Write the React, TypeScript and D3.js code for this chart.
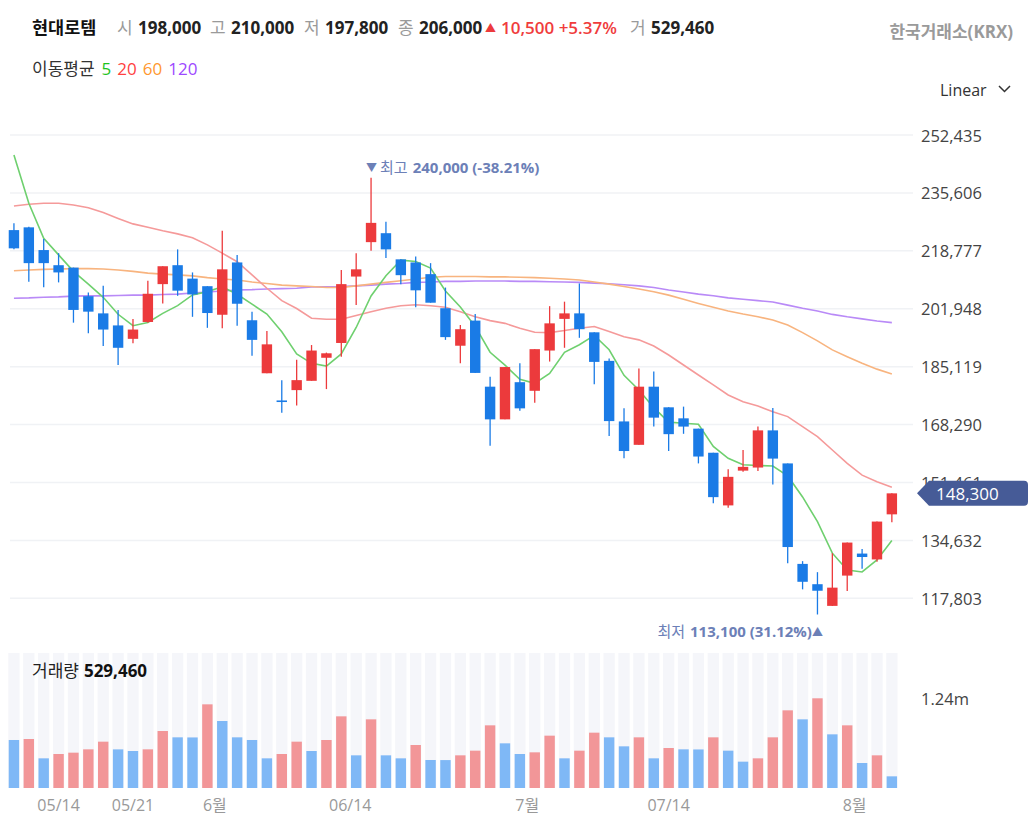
import { useEffect, useRef } from "react"
import * as d3 from "d3"

// OHLC (60 trading days)
const opens = [224800, 225600, 219000, 214600, 213900, 205600, 200600, 197100, 193200, 198100,
  209100, 214600, 210700, 208500, 200200, 215400, 198600, 183200, 175300, 178300,
  181000, 187700, 192000, 211300, 221300, 223900, 216300, 215400, 212000, 202100,
  191200, 198500, 179300, 169800, 180600, 178100, 189800, 199000, 200600, 195100,
  186800, 169200, 162400, 179300, 173300, 170100, 167100, 160100, 144800, 154900,
  155800, 166600, 157000, 127800, 121900, 115600, 124400, 130800, 129100, 142200]
const highs = [226800, 225800, 222200, 218100, 213900, 206700, 208600, 201600, 199000, 210100,
  214300, 219200, 212500, 208500, 224600, 217600, 201100, 195500, 181200, 187100,
  191400, 189200, 213200, 218100, 240000, 227200, 216300, 217100, 215200, 208100,
  197200, 200400, 182200, 185000, 186100, 190200, 202700, 204000, 209300, 195100,
  187500, 173000, 184600, 183700, 173300, 173500, 167100, 160100, 155300, 160900,
  167700, 173100, 157000, 128600, 125400, 130900, 134000, 132100, 140100, 148300]
const lows = [219200, 209800, 208200, 209600, 197900, 194800, 191100, 185600, 191900, 197900,
  203500, 205700, 199600, 196400, 196300, 197000, 188300, 183200, 171700, 173800,
  181000, 178600, 188000, 203000, 218800, 216700, 209100, 202400, 203700, 192900,
  186100, 183300, 162100, 169800, 172300, 174600, 186600, 190600, 193500, 180000,
  165000, 158500, 162400, 167700, 160600, 165600, 157000, 145400, 144100, 154600,
  154800, 150900, 128000, 120400, 113100, 115600, 119900, 126400, 128400, 139900]
const closes = [219500, 215200, 215200, 212500, 201600, 201100, 195900, 190600, 195900, 206300,
  214300, 207200, 206100, 200700, 213400, 203400, 192900, 191600, 174900, 181200,
  189800, 189000, 209100, 213400, 226900, 219200, 211700, 207300, 203700, 193700,
  196000, 183300, 169800, 185000, 173000, 190200, 197700, 200600, 196000, 186500,
  169300, 160600, 179300, 170300, 165500, 167700, 159000, 147200, 153100, 156000,
  166600, 158400, 132700, 122600, 120000, 120900, 134000, 129800, 140100, 148300]
const volumes = [663600, 677400, 410100, 470000, 488400, 534500, 640500, 534000, 511500, 534500,
  788000, 700400, 699000, 1156600, 926200, 700400, 663600, 410100, 470000, 640500,
  511500, 663600, 990700, 451600, 949200, 451600, 410100, 594400, 387100, 386000,
  451600, 516100, 866300, 617500, 470000, 493100, 723500, 410100, 516100, 764900,
  700400, 576000, 700400, 410100, 553000, 534500, 533000, 700400, 516100, 364000,
  410100, 700400, 1073700, 949200, 1240000, 741900, 866300, 345600, 451600, 161300]

// moving averages (history before the window is not shown, so the first MA5 points are read)
const ma5Lead = [246600, 232600, 222400, 217600]
const ma20 = [231800, 232300, 232600, 232600, 232100, 231300, 229900, 228200, 226600, 225600,
  224600, 223700, 222600, 220500, 218100, 215600, 211800, 207900, 204300, 202000,
  199200, 198900, 198900, 200000, 201100, 202100, 202800, 203100, 202800, 202400,
  201100, 199600, 198500, 197700, 196300, 195100, 195000, 195600, 196300, 196800,
  195300, 193800, 192900, 191100, 188500, 185600, 182700, 179800, 176900, 174900,
  173700, 172000, 170600, 167700, 164800, 160900, 157000, 153600, 151700, 150100]
const ma60 = [213000, 213200, 213400, 213500, 213600, 213600, 213500, 213200, 212800, 212300,
  212000, 211800, 211500, 211000, 210600, 210300, 209700, 209300, 208800, 208600,
  208400, 208100, 208100, 208600, 209100, 209600, 210100, 210600, 211100, 211300,
  211300, 211300, 211200, 211200, 211100, 211000, 210800, 210600, 210300, 209700,
  209100, 208400, 207700, 206900, 205900, 204700, 203500, 202400, 201300, 200400,
  199600, 198700, 197200, 195000, 192600, 190000, 188000, 186100, 184400, 183000]
const ma120 = [205000, 205100, 205300, 205400, 205600, 205700, 205700, 205800, 205900, 205900,
  206100, 206200, 206500, 206800, 207100, 207400, 207500, 207700, 207800, 207900,
  208300, 208300, 208400, 208600, 208800, 209100, 209300, 209600, 209700, 209900,
  209900, 210000, 210000, 210000, 209900, 209900, 209800, 209700, 209600, 209400,
  209200, 208900, 208600, 208100, 207400, 206800, 206200, 205700, 205100, 204700,
  204300, 203900, 203000, 202100, 201300, 200300, 199600, 199000, 198400, 197900]

const priceTicks = [117803, 134632, 151461, 168290, 185119, 201948, 218777, 235606, 252435]
const dateLabels = ["05/14", "05/21", "6월", "06/14", "7월", "07/14", "8월"]
const dateIndex = [3, 8, 13.5, 22.6, 34.5, 44, 56.5]

const headerStats = [
  ["시", "198,000"],
  ["고", "210,000"],
  ["저", "197,800"],
  ["종", "206,000"],
]
const maNames = ["5", "20", "60", "120"]
const maColors = ["#1ec31e", "#ff4040", "#ff9830", "#9d48ff"]

const RED = "#ec3a3c"
const BLUE = "#1a7be6"
const FONT = "'Open Sans', 'Noto Sans CJK KR', sans-serif"

export default function App() {
  const svgRef = useRef<SVGSVGElement>(null)

  useEffect(() => {
    if (!svgRef.current) return
    const svg = d3.select(svgRef.current)
    svg.selectAll("*").remove()
    svg.attr("font-family", FONT)

    const n = closes.length
    const x = d3.scaleLinear().domain([-0.5, n - 0.5]).range([6.5, 899.3])
    const step = x(1) - x(0)
    const y = d3.scaleLinear().domain([117803, 252435]).range([598.3, 135])
    const yVol = d3.scaleLinear().domain([0, d3.max(volumes)!]).range([788, 698.3])
    const comma = d3.format(",")
    const pct = (v: number) => d3.format(".2f")(v).replace("−", "-")

    // header
    const head = svg.append("g").attr("font-size", 17).attr("dominant-baseline", "central")
    head.append("text").attr("x", 32).attr("y", 27).attr("font-size", 17.5).attr("font-weight", 700)
      .attr("fill", "#111").text("현대로템")
    const statX = [117, 210, 304, 398]
    headerStats.forEach(([k, v], i) => {
      head.append("text").attr("x", statX[i]).attr("y", 27).attr("fill", "#9a9a9a").text(k)
      head.append("text").attr("x", statX[i] + 21).attr("y", 27).attr("font-weight", 700).attr("fill", "#222").text(v)
    })
    head.append("text").attr("x", 485).attr("y", 27).attr("font-size", 11).attr("fill", RED).text("▲")
    head.append("text").attr("x", 501).attr("y", 27).attr("font-weight", 600).attr("fill", "#f03c3c").text("10,500 +5.37%")
    head.append("text").attr("x", 630).attr("y", 27).attr("fill", "#9a9a9a").text("거")
    head.append("text").attr("x", 651).attr("y", 27).attr("font-weight", 700).attr("fill", "#222").text("529,460")
    head.append("text").attr("x", 1013).attr("y", 31).attr("text-anchor", "end").attr("font-size", 17)
      .attr("font-weight", 700).attr("fill", "#9a9a9a").text("한국거래소(KRX)")

    const legend = svg.append("text").attr("x", 32).attr("y", 68).attr("font-size", 17)
      .attr("dominant-baseline", "central").attr("fill", "#333")
    legend.append("tspan").text("이동평균")
    maNames.forEach((m, i) => legend.append("tspan").attr("dx", i === 0 ? 7 : 6).attr("fill", maColors[i]).text(m))

    svg.append("text").attr("x", 940).attr("y", 90).attr("font-size", 16).attr("dominant-baseline", "central")
      .attr("fill", "#333").text("Linear")
    svg.append("polyline").attr("points", "999,86 1004.5,91.5 1010,86").attr("fill", "none")
      .attr("stroke", "#333").attr("stroke-width", 1.5)

    // grid + price axis
    svg.append("g").selectAll("line").data(priceTicks).join("line")
      .attr("x1", 10).attr("x2", 913).attr("y1", (d) => y(d)).attr("y2", (d) => y(d))
      .attr("stroke", "#f0f2f5").attr("stroke-width", 1.5)
    svg.append("g").selectAll("text").data(priceTicks).join("text")
      .attr("x", 921).attr("y", (d) => y(d)).attr("dominant-baseline", "central")
      .attr("font-size", 16.5).attr("fill", "#444").text((d) => comma(d))

    // moving averages
    const ma5 = closes.map((_, i) => (i < ma5Lead.length ? ma5Lead[i] : d3.mean(closes.slice(i - 4, i + 1))!))
    const line = d3.line<number>().x((_, i) => x(i)).y((d) => y(d))
    const maSeries = [ma120, ma60, ma20, ma5]
    const maLineColors = ["#b98af7", "#f8b47f", "#f59a9a", "#6fd06f"]
    maSeries.forEach((s, i) => {
      svg.append("path").attr("d", line(s)).attr("fill", "none")
        .attr("stroke", maLineColors[i]).attr("stroke-width", 1.6)
    })

    // candles
    const idx = d3.range(n)
    const candles = svg.append("g").selectAll("g").data(idx).join("g")
    candles.append("line")
      .attr("x1", (i) => x(i)).attr("x2", (i) => x(i))
      .attr("y1", (i) => y(highs[i])).attr("y2", (i) => y(lows[i]))
      .attr("stroke", (i) => (closes[i] >= opens[i] ? RED : BLUE)).attr("stroke-width", 1.3)
    const bw = step * 0.7
    candles.append("rect")
      .attr("x", (i) => x(i) - bw / 2)
      .attr("y", (i) => y(Math.max(opens[i], closes[i])))
      .attr("width", bw)
      .attr("height", (i) => Math.max(1.6, Math.abs(y(opens[i]) - y(closes[i]))))
      .attr("fill", (i) => (closes[i] >= opens[i] ? RED : BLUE))

    // high / low annotations
    const hiIdx = d3.maxIndex(highs)
    const loIdx = d3.minIndex(lows)
    const last = closes[n - 1]
    const hi = svg.append("text").attr("x", x(hiIdx) - 5).attr("y", 167).attr("font-size", 15)
      .attr("dominant-baseline", "central").attr("fill", "#6c80b7")
    hi.append("tspan").attr("font-size", 11).text("▼")
    hi.append("tspan").attr("dx", 3).text("최고")
    hi.append("tspan").attr("dx", 5).attr("font-weight", 700)
      .text(`${comma(highs[hiIdx])} (${pct(((last - highs[hiIdx]) / highs[hiIdx]) * 100)}%)`)
    const lo = svg.append("text").attr("x", x(loIdx) + 5.5).attr("y", 631).attr("font-size", 15)
      .attr("text-anchor", "end").attr("dominant-baseline", "central").attr("fill", "#6c80b7")
    lo.append("tspan").text("최저")
    lo.append("tspan").attr("dx", 5).attr("font-weight", 700)
      .text(`${comma(lows[loIdx])} (${pct(((last - lows[loIdx]) / lows[loIdx]) * 100)}%)`)
    lo.append("tspan").attr("font-size", 11).text("▲")

    // last price tag
    const ly = y(last)
    svg.append("path")
      .attr("d", `M917,${ly} L929,${ly - 12.5} H1024 Q1028,${ly - 12.5} 1028,${ly - 8.5} V${ly + 8.5} Q1028,${ly + 12.5} 1024,${ly + 12.5} H929 Z`)
      .attr("fill", "#465b97")
    svg.append("text").attr("x", 936).attr("y", ly).attr("dominant-baseline", "central")
      .attr("font-size", 17).attr("fill", "#fff").text(comma(last))

    // volume panel
    const cw = step * 0.76
    svg.append("g").selectAll("rect").data(idx).join("rect")
      .attr("x", (i) => x(i) - cw / 2).attr("y", 653).attr("width", cw).attr("height", 788 - 653)
      .attr("fill", "#f5f6fa")
    svg.append("g").selectAll("rect").data(idx).join("rect")
      .attr("x", (i) => x(i) - bw / 2).attr("y", (i) => yVol(volumes[i]))
      .attr("width", bw).attr("height", (i) => 788 - yVol(volumes[i]))
      .attr("fill", (i) => (i > 0 && volumes[i] > volumes[i - 1] ? "#f29698" : "#7fb8f6"))

    const vl = svg.append("text").attr("x", 32).attr("y", 670).attr("font-size", 17)
      .attr("dominant-baseline", "central").attr("fill", "#222")
    vl.append("tspan").text("거래량")
    vl.append("tspan").attr("dx", 5).attr("font-weight", 700).attr("fill", "#111").text("529,460")
    svg.append("text").attr("x", 921).attr("y", yVol(d3.max(volumes)!)).attr("font-size", 16.5)
      .attr("dominant-baseline", "central").attr("fill", "#444").text(d3.format(".3s")(d3.max(volumes)!).replace("M", "m"))

    // date axis
    svg.append("g").selectAll("text").data(dateLabels).join("text")
      .attr("x", (_, i) => x(dateIndex[i])).attr("y", 805).attr("text-anchor", "middle")
      .attr("dominant-baseline", "central").attr("font-size", 16).attr("fill", "#999")
      .text((d) => d)
  }, [])

  return (
    <svg
      ref={svgRef}
      width={1035}
      height={820}
      style={{ position: "absolute", left: 0, top: 0, background: "#fff" }}
    />
  )
}
